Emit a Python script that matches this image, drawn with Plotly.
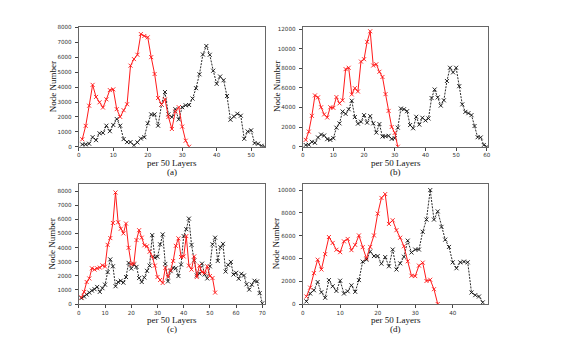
import plotly.graph_objects as go
from plotly.subplots import make_subplots

# ---------------- data ----------------
a_red = [500, 1400, 2750, 4150, 3340, 2980, 2630, 3180, 3800, 3850, 2520, 2000, 2450, 2850,
         5440, 5880, 6170, 7560, 7430, 7340, 6010, 4880, 3270, 2830, 3180, 2000, 1190, 2360,
         2650, 1350, 400, 0]
a_black = [150, 150, 200, 640, 440, 900, 930, 1410, 1040, 1460, 1860, 1410, 510, 310, 310, 90,
           290, 550, 640, 1570, 2170, 2170, 1410, 2830, 3670, 2170, 1990, 2520, 1830, 2650,
           2780, 2800, 3230, 3930, 4860, 6190, 6760, 6170, 5100, 4220, 4710, 4460, 3400, 1810,
           2030, 2210, 2080, 530, 1020, 1100, 240, 200, 60, 0]

b_red = [700, 1540, 3150, 5230, 5030, 4020, 3290, 2980, 4020, 3960, 5060, 4420, 4730, 7910,
         8050, 5330, 5970, 5630, 8680, 8920, 10690, 11770, 8280, 8410, 7640, 7110, 5360, 3650,
         2010, 1410, 0]
b_black = [170, 200, 500, 400, 940, 1240, 1140, 770, 700, 870, 1940, 2380, 3590, 3350, 3820,
           4690, 3020, 2350, 2550, 3220, 2450, 3120, 2380, 1440, 2310, 1040, 1070, 1110, 800,
           870, 1940, 3890, 3820, 3620, 2210, 1880, 3050, 2250, 2950, 2680, 2880, 4960, 5830,
           5030, 4190, 4730, 6700, 8050, 7580, 8050, 6170, 4320, 3550, 3420, 3220, 2110, 970,
           940, 170, 0]

c_red = [470, 860, 1560, 1810, 2530, 2440, 2530, 2580, 2740, 2650, 4190, 4670, 5740, 7900,
         5790, 5330, 5000, 5700, 3980, 2810, 2860, 4530, 5230, 4700, 4160, 4090, 3700, 3370,
         2720, 1910, 1700, 1490, 2560, 1930, 2400, 3050, 4120, 4650, 3330, 3370, 4810, 2720,
         2440, 3370, 1910, 2720, 2260, 2210, 2670, 1980, 1840, 810]
c_black = [420, 530, 670, 810, 950, 1050, 1210, 860, 1120, 1370, 2260, 3160, 2670, 1260, 1560,
           1650, 1510, 1910, 2910, 2510, 2790, 2630, 1840, 1560, 1880, 2350, 2720, 4880, 3280,
           3350, 4230, 4930, 2840, 1600, 2330, 2560, 2530, 1980, 2790, 4810, 5300, 6050, 4190,
           3090, 2020, 2160, 2860, 2090, 1810, 2670, 4230, 4700, 3050, 4020, 4260, 2300, 2770,
           2980, 2090, 2210, 1790, 2140, 2020, 1400, 1020, 1370, 1650, 1600, 770, 50]

d_red = [660, 1440, 2710, 3890, 3030, 4380, 5880, 5360, 4760, 4550, 5500, 5710, 4730, 5190,
         6020, 4990, 4010, 5010, 6020, 7930, 9310, 9650, 7030, 7350, 6480, 5820, 5070, 3750,
         2480, 2450, 3370, 3630, 2020, 2130, 1300, 0]
d_black = [230, 920, 1210, 1930, 1040, 550, 2100, 1560, 1150, 2050, 920, 1120, 1640, 1070,
           2100, 3720, 3890, 4610, 4210, 4210, 3540, 4120, 3310, 4780, 3030, 3570, 4150, 5560,
           4520, 4780, 4780, 6340, 7410, 10000, 7410, 8130, 6770, 5650, 5010, 3660, 3140, 3660,
           3720, 3660, 1010, 780, 660, 140]

panel_letters = ["(a)", "(b)", "(c)", "(d)"]
x_title = "per 50 Layers"
y_title = "Node Number"

panels = [
    (a_red, a_black, [0, 54], [0, 8050], 1000, 10),
    (b_red, b_black, [0, 60.5], [0, 12230], 2000, 10),
    (c_red, c_black, [0, 71], [0, 8490], 1000, 10),
    (d_red, d_black, [0, 49.5], [0, 10520], 2000, 10),
]

W, H = 578, 348
# pixel boxes (left, right, top, bottom)
boxes = [
    (69.3, 256.7, 17.0, 138.7),
    (294.7, 481.7, 17.0, 138.7),
    (69.3, 256.7, 176.7, 298.3),
    (294.7, 481.7, 176.7, 298.3),
]

fig = make_subplots(rows=2, cols=2)

RED = "#ff1a1a"
BLK = "#111111"
tick_font = dict(family="DejaVu Sans", size=5.6, color="#333")
title_font = dict(family="Liberation Serif", size=9, color="#111")

for i, (red, blk, xr, yr, ydt, xdt) in enumerate(panels):
    r, c = i // 2 + 1, i % 2 + 1
    fig.add_trace(go.Scatter(
        x=list(range(1, len(blk) + 1)), y=blk, mode="lines+markers",
        line=dict(color=BLK, width=0.9, dash="2px,1.2px"),
        marker=dict(symbol="x-thin", size=4, line=dict(color=BLK, width=0.9)),
        showlegend=False), row=r, col=c)
    fig.add_trace(go.Scatter(
        x=list(range(1, len(red) + 1)), y=red, mode="lines+markers",
        line=dict(color=RED, width=1),
        marker=dict(symbol="x-thin", size=4, line=dict(color=RED, width=0.9)),
        showlegend=False), row=r, col=c)

    L, R, T, B = boxes[i]
    xa = "xaxis" if i == 0 else f"xaxis{i+1}"
    ya = "yaxis" if i == 0 else f"yaxis{i+1}"
    fig.layout[xa].update(
        domain=[L / W, R / W], range=xr, dtick=xdt, tick0=0, tickformat="d",
        showline=True, linecolor="#666", linewidth=1, mirror=True,
        ticks="outside", ticklen=3, tickwidth=0.8, tickcolor="#444",
        showgrid=False, zeroline=False, tickfont=tick_font)
    fig.layout[ya].update(
        domain=[1 - B / H, 1 - T / H], range=yr, dtick=ydt, tick0=0, tickformat="d",
        showline=True, linecolor="#666", linewidth=1, mirror=True,
        ticks="outside", ticklen=3, tickwidth=0.8, tickcolor="#444",
        showgrid=False, zeroline=False, tickfont=tick_font, ticklabelstandoff=2)

    cx = (L + R) / 2
    cy = (T + B) / 2
    fig.add_annotation(x=cx / W, y=1 - (B + 16.6) / H, xref="paper", yref="paper",
                       text=x_title, showarrow=False, font=title_font,
                       xanchor="center", yanchor="middle")
    fig.add_annotation(x=cx / W, y=1 - (B + 25.8) / H, xref="paper", yref="paper",
                       text=panel_letters[i], showarrow=False, font=title_font,
                       xanchor="center", yanchor="middle")
    fig.add_annotation(x=(L - 26.6) / W, y=1 - cy / H, xref="paper", yref="paper",
                       text=y_title, showarrow=False, font=title_font, textangle=-90,
                       xanchor="center", yanchor="middle")

fig.update_layout(width=W, height=H, margin=dict(l=0, r=0, t=0, b=0),
                  paper_bgcolor="white", plot_bgcolor="white")

fig.write_html("out.html")
